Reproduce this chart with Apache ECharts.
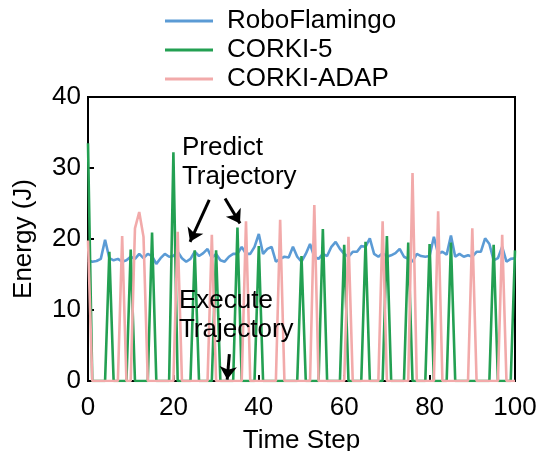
<!DOCTYPE html>
<html><head><meta charset="utf-8">
<script src="https://cdn.jsdelivr.net/npm/echarts@6/dist/echarts.min.js"></script>
<style>html,body{margin:0;padding:0;background:#fff}#c{width:538px;height:451px}</style>
</head><body><div id="c"></div>
<script>
var seriesNames = ['RoboFlamingo', 'CORKI-5', 'CORKI-ADAP'];
var roboFlamingo = [
17.0,16.8,16.9,17.2,19.9,17.3,17.0,17.2,16.8,17.0,
17.5,17.2,17.9,17.3,17.9,17.6,16.5,17.3,17.9,17.5,
17.6,18.2,17.3,16.8,17.2,18.2,17.6,18.0,18.6,17.3,
17.9,17.0,16.8,17.5,17.9,17.9,18.9,17.9,17.9,18.9,
20.7,17.9,18.6,18.9,16.8,17.2,17.5,17.4,18.9,17.5,
16.8,17.9,19.3,17.5,17.2,17.9,17.6,18.9,19.6,18.6,
17.9,17.5,18.2,18.2,19.0,18.9,20.1,17.9,17.5,18.0,
17.5,17.7,18.0,18.6,17.5,17.2,16.8,17.9,17.6,17.5,
17.6,20.3,17.9,18.2,17.8,20.5,17.5,17.9,17.5,17.7,
17.5,18.2,18.2,20.1,19.3,17.0,17.3,18.9,16.8,17.2,
17.3];
var corki5 = [
33.5,0,0,0,0,18.2,0,0,0,0,
18.5,0,0,0,0,20.9,0,0,0,0,
32.2,0,0,0,0,18.4,0,0,0,0,
18.4,0,0,0,0,21.6,0,0,0,0,
19.0,0,0,0,0,0,0,0,0,0,
17.6,0,0,0,0,21.4,0,0,0,0,
19.2,0,0,0,0,19.6,0,0,0,0,
20.4,0,0,0,0,19.5,0,0,0,0,
19.3,0,0,0,0,19.5,0,0,0,0,
0,0,0,0,0,19.2,0,0,0,0,
18.4];
var corkiAdap = [
19.8,0,0,0,0,0,0,0,20.4,0,
0,21.5,23.8,20.3,0,0,0,0,0,0,
0,21.0,0,0,0,0,0,0,0,20.6,
0,0,0,0,0,0,0,22.5,0,0,
0,0,0,0,0,22.7,0,0,0,0,
0,0,0,24.8,0,0,0,0,0,0,
0,20.3,0,0,0,0,0,0,0,22.5,
0,0,0,0,0,0,29.3,0,0,0,
0,0,23.9,0,0,0,0,0,0,0,
21.5,0,0,0,0,0,0,20.6,0,0,
0];
var xTicks = [0, 20, 40, 60, 80, 100];
var yTicks = [0, 10, 20, 30, 40];
// annotation anchors in data coordinates
var arrows = [
  [[28.4, 25.5], [23.9, 19.6]],
  [[32.1, 25.7], [35.6, 22.2]],
  [[33.1, 3.8], [32.6, 0.2]]
];
var notes = [
  {text: 'Predict\nTrajectory', at: [22.0, 34.9]},
  {text: 'Execute\nTrajectory', at: [21.3, 13.3]}
];

var FONT = '"Liberation Sans", Arial, Helvetica, sans-serif';
var colors = ['#5B9BD5', '#23A052', '#F2AAAA'];
function pairs(arr) { return arr.map(function (v, i) { return [i, v]; }); }
var all = [roboFlamingo, corki5, corkiAdap];

var chart = echarts.init(document.getElementById('c'));
var series = all.map(function (arr, k) {
  return {
    name: seriesNames[k], type: 'line', data: pairs(arr), showSymbol: false, symbol: 'none',
    lineStyle: {width: 2.6, color: colors[k]}, itemStyle: {color: colors[k]},
    animation: false, z: 2 + k
  };
});
series[0].markLine = {
  silent: true, animation: false, symbol: ['none', 'arrow'], symbolSize: [13, 13],
  label: {show: false}, lineStyle: {color: '#000', width: 3, type: 'solid'},
  data: arrows.map(function (a) { return [{coord: a[0]}, {coord: a[1]}]; })
};
chart.setOption({
  animation: false,
  legend: {
    orient: 'vertical', left: 165, top: 8, padding: 0, itemWidth: 48, itemHeight: 3, itemGap: 3,
    icon: 'rect',
    data: seriesNames,
    textStyle: {fontFamily: FONT, fontSize: 26, color: '#000', lineHeight: 26, padding: [0, 0, 0, 9]}
  },
  grid: {left: 88, right: 23, top: 97, bottom: 70, show: true, borderColor: '#000', borderWidth: 2,
    containLabel: false, outerBoundsMode: 'none'},
  xAxis: {
    type: 'value', min: xTicks[0], max: xTicks[xTicks.length - 1], interval: 20,
    name: 'Time Step', nameLocation: 'middle', nameGap: 47,
    nameTextStyle: {fontFamily: FONT, fontSize: 26, color: '#000'},
    axisLine: {show: true, lineStyle: {color: '#000', width: 2}},
    axisTick: {show: true, inside: true, length: 6, lineStyle: {color: '#000', width: 2}},
    axisLabel: {fontFamily: FONT, fontSize: 26, color: '#000', margin: 14},
    splitLine: {show: false}
  },
  yAxis: {
    type: 'value', min: yTicks[0], max: yTicks[yTicks.length - 1], interval: 10,
    name: 'Energy (J)', nameLocation: 'middle', nameGap: 51,
    nameTextStyle: {fontFamily: FONT, fontSize: 26, color: '#000'},
    axisLine: {show: true, lineStyle: {color: '#000', width: 2}},
    axisTick: {show: true, inside: true, length: 6, lineStyle: {color: '#000', width: 2}},
    axisLabel: {fontFamily: FONT, fontSize: 26, color: '#000', margin: 7},
    splitLine: {show: false}
  },
  series: series
});
var g = notes.map(function (n) {
  var p = chart.convertToPixel({gridIndex: 0}, n.at);
  return {
    type: 'text', x: p[0], y: p[1], z: 100, silent: true,
    style: {text: n.text, font: '26px ' + FONT, fill: '#000', lineHeight: 29, textVerticalAlign: 'top', textAlign: 'left'}
  };
});
chart.setOption({graphic: g});
</script></body></html>
